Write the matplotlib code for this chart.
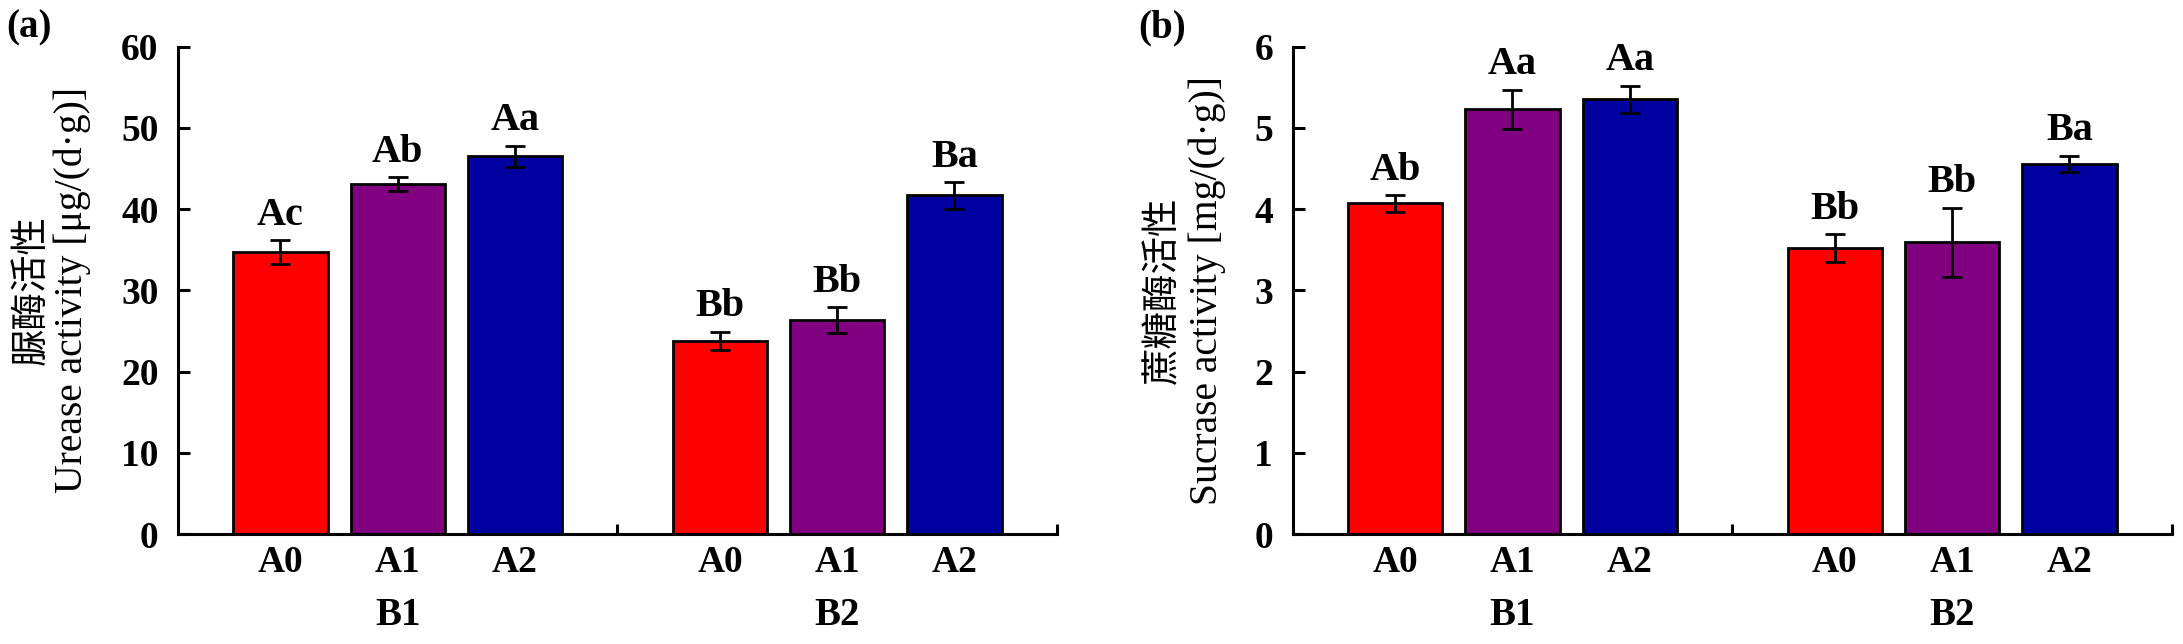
import matplotlib
matplotlib.use('Agg')
from matplotlib import pyplot
import numpy

matplotlib.rcParams['font.family'] = ['Liberation Serif', 'Noto Sans CJK SC']
matplotlib.rcParams['font.size'] = 27
matplotlib.rcParams['font.weight'] = 'bold'

treatments = ['A0', 'A1', 'A2']
groups = ['B1', 'B2']
colors = ['#ff0000', '#800080', '#0000a0']

urease = [[34.7, 43.1, 46.5], [23.8, 26.3, 41.7]]
urease_err = [[1.45, 0.85, 1.3], [1.1, 1.6, 1.65]]
urease_letters = [['Ac', 'Ab', 'Aa'], ['Bb', 'Bb', 'Ba']]

sucrase = [[4.07, 5.23, 5.35], [3.52, 3.59, 4.56]]
sucrase_err = [[0.1, 0.24, 0.17], [0.17, 0.43, 0.1]]
sucrase_letters = [['Ab', 'Aa', 'Aa'], ['Bb', 'Bb', 'Ba']]

group_step = 3.75
bar_width = 0.805

fig = pyplot.figure(figsize=(21.83, 6.44), dpi=100)
ax1 = fig.add_axes([0.0815, 0.1708, 0.4027, 0.7567])
ax2 = fig.add_axes([0.5921, 0.1708, 0.4029, 0.7567])


def draw(ax, values, errors, letters, ymax, ystep, zh, en, panel, en_x, zh_x):
    ticks = []
    for g in range(len(groups)):
        x = g * group_step + numpy.arange(len(treatments))
        ticks.extend(x)
        ax.bar(x, values[g], width=bar_width, color=colors,
               edgecolor='black', linewidth=2, zorder=2)
        ax.errorbar(x, values[g], yerr=errors[g], fmt='none', ecolor='black',
                    elinewidth=2, capsize=7.5, capthick=2, zorder=3)
        for xi, v, e, t in zip(x, values[g], errors[g], letters[g]):
            ax.annotate(t, (xi, v + e), xytext=(0, 11), textcoords='offset points',
                        ha='center', va='baseline', fontsize=29)

    ax.set_xlim(-0.875, 2 * group_step - 0.875)
    ax.set_ylim(0, ymax)
    ax.set_yticks(numpy.arange(0, ymax + ystep / 2, ystep))
    ax.set_xticks(ticks, treatments * len(groups))
    ax.set_xticks([group_step - 0.875, 2 * group_step - 0.875], minor=True)
    ax.tick_params(axis='y', direction='in', length=8.5, width=2.2, pad=14)
    ax.tick_params(axis='x', which='major', length=0, pad=8)
    ax.tick_params(axis='x', which='minor', direction='in', length=7, width=2.2)
    for side in ['top', 'right']:
        ax.spines[side].set_visible(False)
    for side in ['left', 'bottom']:
        ax.spines[side].set_linewidth(2.2)

    sec = ax.secondary_xaxis('bottom')
    sec.set_xticks([g * group_step + 1 for g in range(len(groups))], groups)
    sec.tick_params(length=0, pad=45, labelsize=28)
    sec.spines['bottom'].set_visible(False)

    ax.set_ylabel(en, fontweight='normal', fontsize=28.5)
    ax.yaxis.label.set_va('center')
    ax.yaxis.set_label_coords(en_x, 0.5)
    ax.text(zh_x, 0.5, zh, transform=ax.transAxes, rotation=90, ha='center',
            va='center', fontweight='normal', fontsize=27,
            family=['Noto Sans CJK SC', 'Liberation Serif'])
    ax.text(-0.195 if panel == '(a)' else -0.175, 1.0, panel, transform=ax.transAxes,
            ha='left', va='bottom', fontsize=28)


draw(ax1, urease, urease_err, urease_letters, 60, 10, '脲酶活性',
     'Urease activity [μg/(d·g)]', '(a)', -0.1206, -0.167)
draw(ax2, sucrase, sucrase_err, sucrase_letters, 6, 1, '蔗糖酶活性',
     'Sucrase activity [mg/(d·g)]', '(b)', -0.0966, -0.1477)

fig.savefig('out.png', dpi=100)
